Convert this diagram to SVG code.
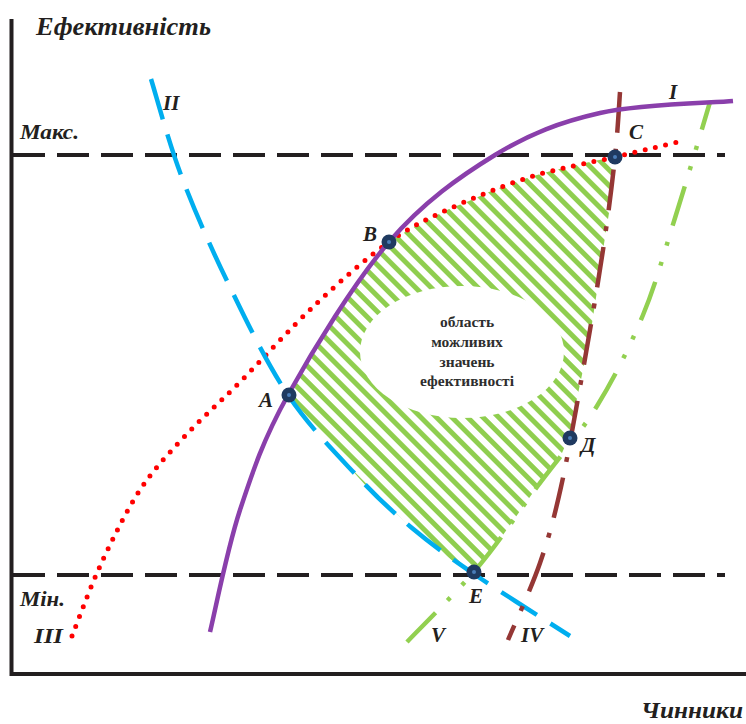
<svg xmlns="http://www.w3.org/2000/svg" width="746" height="724" viewBox="0 0 746 724">
<style>
.lbl{font-family:"Liberation Serif","Times New Roman",serif;font-weight:bold;font-style:italic;fill:#231f20}
.inner{font-family:"Liberation Serif","Times New Roman",serif;font-weight:bold;font-size:15.5px;fill:#2e2e2e;text-anchor:middle}
.lim{fill:none;stroke:#231f20;stroke-width:4;stroke-dasharray:32 12}
.pt{fill:#1f3a60}
.ptc{fill:#4a7cb8}
</style>
<defs>
<pattern id="hatch" patternUnits="userSpaceOnUse" width="11" height="11" patternTransform="rotate(-45)">
<rect x="0" y="0" width="5" height="11" fill="#8fce4f"/>
</pattern>
</defs>
<rect width="746" height="724" fill="#fff"/>
<g id="region">
<path d="M288,395 C312.8,350.3 354.5,282 389,242 L410,229 L429,219 L449,209 L469,201 L489,192 L509,184 L530,177 L551,171 L572,166 L594,161 L615,157 L609,213 L603,250 L597,291 L591,330 L583,370 L575,408 L569,437 L562,453 L537,487 L503,535 L478,567 L474,574 L458,565 L445,555 L412,528 L400,517 L368,488 L358,477 L330,445 L320,432 L293,400 Z" fill="url(#hatch)"/>
<ellipse cx="462" cy="352" rx="102" ry="66" fill="#fff"/>
<text class="inner" x="467" y="327">область</text>
<text class="inner" x="467" y="347">можливих</text>
<text class="inner" x="467" y="367">значень</text>
<text class="inner" x="467" y="386">ефективності</text>
</g>
<g id="limits">
<path class="lim" d="M13,155 H725"/>
<path class="lim" d="M13,575 H725"/>
<text class="lbl" x="20" y="139" font-size="21" textLength="59" lengthAdjust="spacingAndGlyphs">Макс.</text>
<text class="lbl" x="20" y="606" font-size="21" textLength="45" lengthAdjust="spacingAndGlyphs">Мін.</text>
</g>
<g id="connectors">
<path id="curve-III" d="M72,636 C76.8,624 89.7,588.3 101,564 C112.3,539.7 126,511.3 140,490 C154,468.7 168.3,454 185,436 C201.7,418 218.2,404 240,382 C261.8,360 291.2,327.3 316,304 C340.8,280.7 366.8,257.8 389,242 C411.2,226.2 425.5,219.8 449,209 C472.5,198.2 502.3,185.7 530,177 C557.7,168.3 590.3,162.8 615,157 C639.7,151.2 667.5,144.5 678,142" fill="none" stroke="#ff0000" stroke-width="5" stroke-linecap="round" stroke-dasharray="0 10.5"/>
<path id="curve-II" d="M151,79 C156,95 168.2,141 181,175 C193.8,209 210.2,246.3 228,283 C245.8,319.7 266.3,362.7 288,395 C309.7,427.3 337.3,454.8 358,477 C378.7,499.2 392.7,511.8 412,528 C431.3,544.2 447.7,556 474,574 C500.3,592 554,625.7 570,636" fill="none" stroke="#00aeef" stroke-width="4.5" stroke-dasharray="42 16"/>
<path id="curve-IV" d="M620,92 C619.2,102.8 617.8,130.7 615,157 C612.2,183.3 608.3,214.5 603,250 C597.7,285.5 590,330.5 583,370 C576,409.5 568.2,454.8 561,487 C553.8,519.2 548.8,537.5 540,563 C531.2,588.5 513.3,627.2 508,640" fill="none" stroke="#953735" stroke-width="4.5" stroke-dasharray="41 16 5 16"/>
<path id="curve-V" d="M407,642 C418.8,629.5 456.3,592.8 478,567 C499.7,541.2 517.2,513.8 537,487 C556.8,460.2 579.3,434.7 597,406 C614.7,377.3 630,346.3 643,315 C656,283.7 663.8,253.5 675,218 C686.2,182.5 704.2,121.3 710,102" fill="none" stroke="#92d050" stroke-width="4.5" stroke-dasharray="41 17 4 17 4 17"/>
<path id="curve-I" d="M210,632 C215,611.7 227,549.5 240,510 C253,470.5 263.2,439.7 288,395 C312.8,350.3 354.5,282 389,242 C423.5,202 459.8,176.5 495,155 C530.2,133.5 560.3,122 600,113 C639.7,104 710.8,103 733,101" fill="none" stroke="#8a3fab" stroke-width="4.5"/>
</g>
<g id="axes">
<path d="M11.5,19 V674 H746" fill="none" stroke="#231f20" stroke-width="4"/>
<text class="lbl" x="36" y="35" font-size="25" textLength="175" lengthAdjust="spacingAndGlyphs">Ефективність</text>
<text class="lbl" x="641" y="718" font-size="23" textLength="102" lengthAdjust="spacingAndGlyphs">Чинники</text>
</g>
<g id="point-A"><circle class="pt" cx="289" cy="395" r="7.5"/><circle class="ptc" cx="289" cy="395" r="2"/><text class="lbl" x="259" y="407" font-size="21">A</text></g>
<g id="point-B"><circle class="pt" cx="389" cy="242" r="7.5"/><circle class="ptc" cx="389" cy="242" r="2"/><text class="lbl" x="363" y="241" font-size="21">B</text></g>
<g id="point-C"><circle class="pt" cx="615" cy="157" r="7.5"/><circle class="ptc" cx="615" cy="157" r="2"/><text class="lbl" x="629" y="139" font-size="21">C</text></g>
<g id="point-D"><circle class="pt" cx="570" cy="438" r="7.5"/><circle class="ptc" cx="570" cy="438" r="2"/><text class="lbl" x="581" y="452" font-size="21">Д</text></g>
<g id="point-E"><circle class="pt" cx="474" cy="572" r="7.5"/><circle class="ptc" cx="474" cy="572" r="2" fill="#0d2350"/><text class="lbl" x="469" y="603" font-size="21">E</text></g>
<g id="curve-labels">
<text class="lbl" x="669" y="99" font-size="21">I</text>
<text class="lbl" x="163" y="110" font-size="21">II</text>
<text class="lbl" x="34" y="643" font-size="21" textLength="29" lengthAdjust="spacingAndGlyphs">III</text>
<text class="lbl" x="521" y="642" font-size="21">IV</text>
<text class="lbl" x="431" y="642" font-size="21">V</text>
</g>
</svg>
